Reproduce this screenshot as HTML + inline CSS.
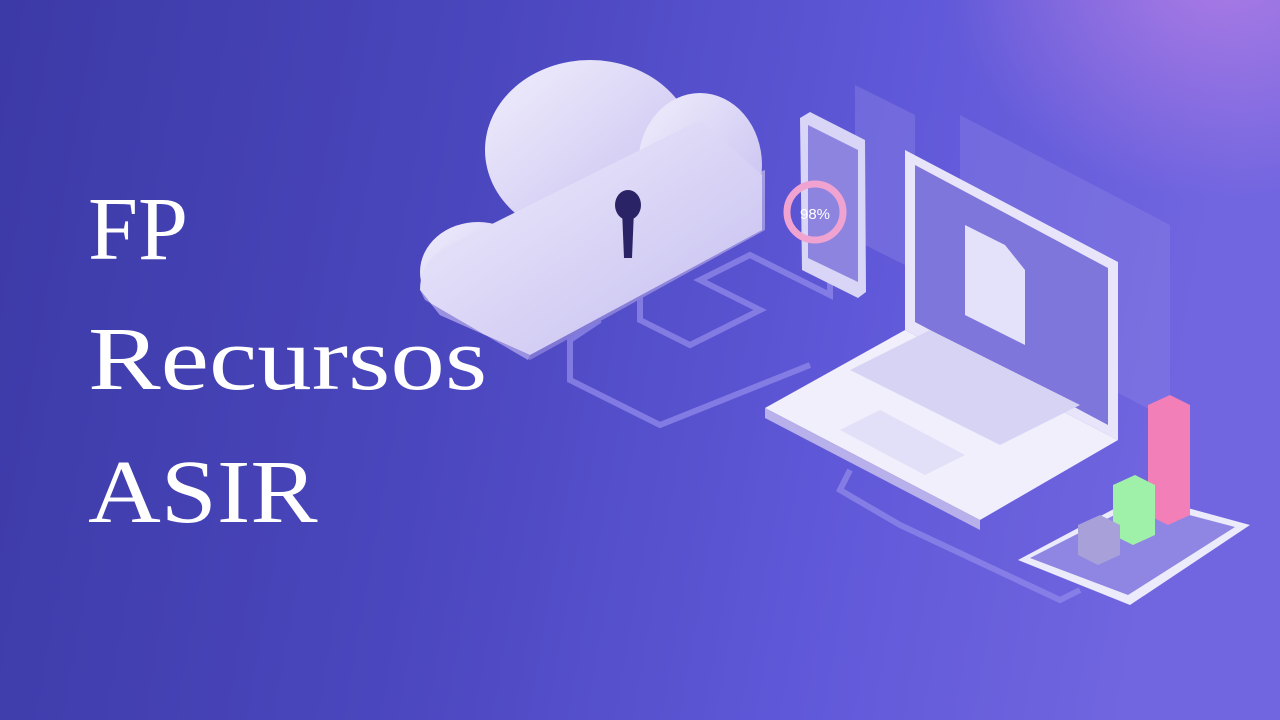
<!DOCTYPE html>
<html><head><meta charset="utf-8"><style>
html,body{margin:0;padding:0;width:1280px;height:720px;overflow:hidden}
body{background:linear-gradient(100deg,#3c3aa6 0%,#4a46bd 35%,#5f58d8 65%,#7266e0 90%);position:relative}
.glow{position:absolute;right:-220px;top:-260px;width:560px;height:460px;background:radial-gradient(ellipse at center,rgba(190,130,230,.75),rgba(190,130,230,0) 70%)}
.t{position:absolute;left:88px;color:#fff;font-family:"Liberation Serif",serif;font-size:90px;line-height:1;transform-origin:left center;white-space:nowrap}
svg{position:absolute;left:0;top:0}
</style></head><body>
<div class="glow"></div>
<div class="t" style="top:185px">FP</div>
<div class="t" style="top:315px;transform:scaleX(1.21)">Recursos</div>
<div class="t" style="top:448px;transform:scaleX(1.12)">ASIR</div>
<svg width="1280" height="720" viewBox="0 0 1280 720">
<defs>
<linearGradient id="cl" x1="0" y1="0" x2="1" y2="1"><stop offset="0" stop-color="#f1eefc"/><stop offset="1" stop-color="#c4bdf0"/></linearGradient>
<linearGradient id="cs" x1="0" y1="0" x2="0" y2="1"><stop offset="0" stop-color="#a69de6"/><stop offset="1" stop-color="#7d74d4"/></linearGradient>
</defs>
<g fill="none" stroke="#8d86e8" stroke-width="6" opacity=".8">
<path d="M640 280 L640 320 L690 345 L760 310 L700 280 L750 255 L830 295 L830 275"/>
<path d="M600 320 L570 340 L570 380 L660 425 L810 365"/>
<path d="M850 470 L840 490 L900 525 L1060 600 L1080 590"/>
</g>
<g>
<path d="M430 300 L530 360 L765 230 L765 170 Z" fill="url(#cs)"/>
<ellipse cx="478" cy="272" rx="58" ry="50" fill="url(#cl)"/>
<ellipse cx="590" cy="150" rx="105" ry="90" fill="url(#cl)"/>
<ellipse cx="700" cy="165" rx="62" ry="72" fill="url(#cl)"/>
<path d="M420 290 Q420 255 460 240 L700 120 L762 175 L762 230 L530 355 L440 315 Z" fill="url(#cl)"/>
<path d="M420 290 L425 300 L528 360 L530 355 L440 315 Z" fill="#9a91e0"/>
<ellipse cx="628" cy="205" rx="13" ry="15" fill="#2a2466"/>
<path d="M622 210 L634 210 L632 258 L624 258 Z" fill="#2a2466"/>
</g>
<polygon points="855,85 915,115 915,270 855,240" fill="#8f86e6" opacity=".4"/>
<polygon points="960,115 1170,225 1170,420 960,310" fill="#8f86e6" opacity=".35"/>
<polygon points="800,118 810,112 865,140 866,292 858,298 802,270" fill="#d9d5f7"/>
<polygon points="808,125 858,150 858,282 808,258" fill="#8d84e0"/>
<circle cx="815" cy="212" r="28" fill="none" stroke="#f0a2d0" stroke-width="7"/>
<text x="800" y="219" font-family="Liberation Sans,sans-serif" font-size="15" fill="#fff">98%</text>
<polygon points="905,150 1118,262 1118,440 905,330" fill="#e8e5fb"/>
<polygon points="915,165 1108,268 1108,425 915,322" fill="#7f76dc"/>
<polygon points="965,225 1005,245 1025,270 1025,345 965,315" fill="#e4e1fa"/>
<polygon points="765,408 905,330 1118,440 980,520" fill="#f1effc"/>
<polygon points="765,408 980,520 980,530 765,418" fill="#b7b0ea"/>
<polygon points="850,370 930,330 1080,405 1000,445" fill="#d7d3f5"/>
<polygon points="840,430 880,410 965,455 925,475" fill="#e2dff8"/>
<polygon points="1018,560 1140,495 1250,525 1130,605" fill="#ecebfb"/>
<polygon points="1030,558 1140,502 1235,527 1128,595" fill="#8f86e3"/>
<polygon points="1148,405 1170,395 1190,405 1190,515 1168,525 1148,515" fill="#f27fb7"/>
<polygon points="1113,485 1135,475 1155,485 1155,535 1133,545 1113,535" fill="#9ff0a8"/>
<polygon points="1078,525 1100,515 1120,525 1120,555 1098,565 1078,555" fill="#a8a0d8"/>
</svg>
</body></html>
